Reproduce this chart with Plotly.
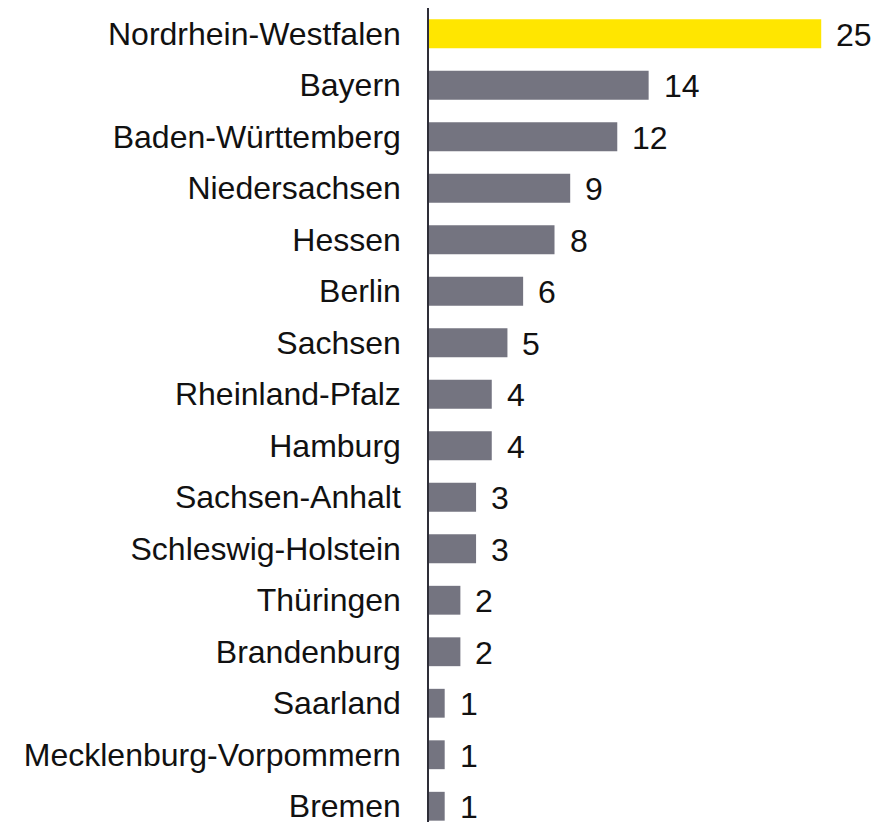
import plotly.graph_objects as go

laender = [
    "Nordrhein-Westfalen", "Bayern", "Baden-Württemberg", "Niedersachsen",
    "Hessen", "Berlin", "Sachsen", "Rheinland-Pfalz", "Hamburg",
    "Sachsen-Anhalt", "Schleswig-Holstein", "Thüringen", "Brandenburg",
    "Saarland", "Mecklenburg-Vorpommern", "Bremen",
]
anzahl = [25, 14, 12, 9, 8, 6, 5, 4, 4, 3, 3, 2, 2, 1, 1, 1]

YELLOW = "#FFE600"
GREY = "#747480"
colors = [YELLOW] + [GREY] * (len(anzahl) - 1)

font = dict(family="Liberation Sans, Arial, sans-serif", size=32, color="#111111")

fig = go.Figure(go.Bar(
    x=anzahl, y=laender, orientation="h",
    marker=dict(color=colors, line=dict(width=0)),
    hoverinfo="skip",
))

# value labels right of the bars
for land, wert in zip(laender, anzahl):
    fig.add_annotation(x=wert, y=land, text=str(wert), showarrow=False,
                       xanchor="left", xshift=13, yshift=-1, font=font)

fig.update_layout(
    width=889, height=824,
    margin=dict(l=421, r=0, t=0, b=0),
    plot_bgcolor="white", paper_bgcolor="white",
    bargap=0.44, showlegend=False, font=font,
    xaxis=dict(range=[0, 29.83], visible=False, fixedrange=True),
    yaxis=dict(
        autorange="reversed", showline=True, linecolor="#2e2e38", linewidth=1.5,
        showgrid=False, zeroline=False, ticks="", ticklabelstandoff=20,
        tickfont=font,
    ),
)

fig.write_html("out.html")
